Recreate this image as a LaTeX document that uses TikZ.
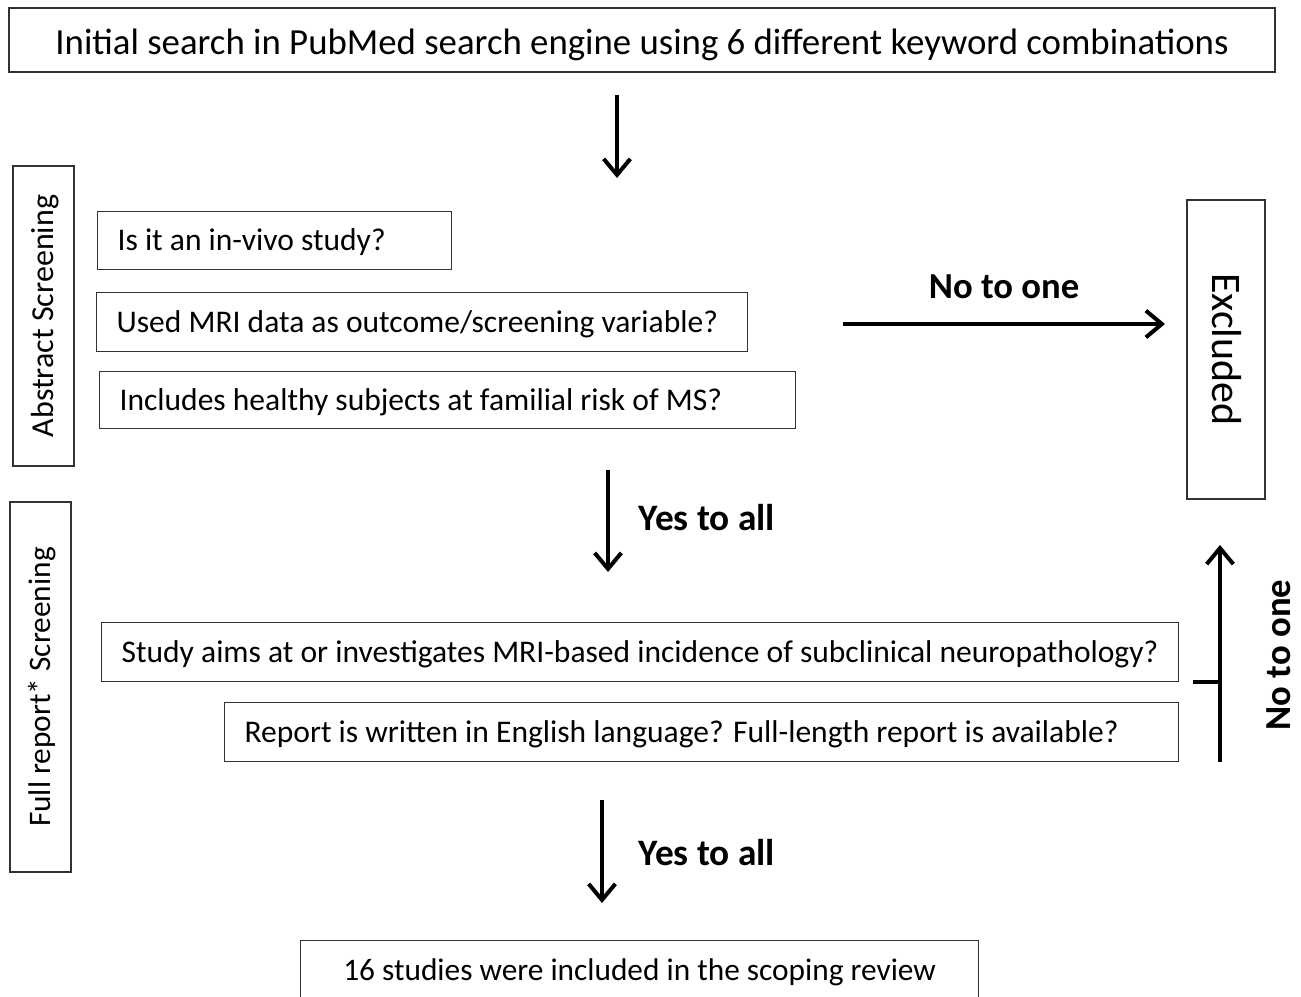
\documentclass[tikz,border=0pt]{standalone}
\usepackage{fontspec}
\setmainfont{Carlito}
\usetikzlibrary{arrows.meta}
\begin{document}
\begin{tikzpicture}[x=0.75pt,y=-0.75pt,
  box/.style={draw=black!80,line width=0.9pt,inner sep=0pt,text depth=0pt},
  qbox/.style={box,anchor=north west,align=flush left,execute at begin node={\hspace*{15pt}},font=\fontsize{23.65}{26}\selectfont,text height=14.95pt},
  side/.style={box,font=\fontsize{23.5}{26}\selectfont,text height=14.85pt},
  arr/.style={line width=3pt,-{Straight Barb[length=12pt,width=20pt,line width=3pt]}},
  lbl/.style={font=\bfseries\fontsize{27.5}{30}\selectfont}]
\useasboundingbox (0,0) rectangle (1301,996);
\node[box,minimum width=949.5pt,minimum height=48pt,font=\fontsize{27.6}{30}\selectfont,text height=21.5pt] (top) at (642,40) {Initial search in PubMed search engine using 6 different keyword combinations};
\node[side,rotate=90,minimum width=225pt,minimum height=45.75pt,font=\fontsize{24}{26}\selectfont,text height=15.2pt] (abs) at (43.5,316) {Abstract Screening};
\node[qbox,text width=265.5pt,minimum height=43.5pt] (q1) at (97,211) {Is it an in-vivo study?};
\node[qbox,text width=488.25pt,minimum height=44.25pt] (q2) at (96,292) {Used MRI data as outcome/screening variable?};
\node[qbox,text width=522pt,minimum height=42.75pt] (q3) at (99,371) {Includes healthy subjects at familial risk of MS?};
\node[side,rotate=-90,minimum width=224.25pt,minimum height=58.5pt,font=\fontsize{31.5}{34}\selectfont,text height=19.9pt] (exc) at (1226,349.5) {Excluded};
\node[side,rotate=90,minimum width=277.5pt,minimum height=45.75pt] (full) at (40.5,687) {Full report* Screening};
\node[qbox,text width=807.75pt,minimum height=44.25pt] (q4) at (101,622) {Study aims at or investigates MRI-based incidence of subclinical neuropathology?};
\node[qbox,text width=715.5pt,minimum height=44.25pt] (q5) at (224,702) {Report is written in English language? Full-length report is available?};
\node[side,anchor=north west,minimum width=508.5pt,minimum height=45pt] (fin) at (300,940) {16 studies were included in the scoping review};
% connectors
\coordinate (a1s) at (617,95); \coordinate (a1e) at (617,178);
\draw[arr] (a1s) -- (a1e);
\coordinate (hs) at (843,324); \coordinate (he) at (1165,324);
\draw[arr] (hs) -- (he);
\node[lbl] (no1) at (1004,287) {No to one};
\coordinate (a2s) at (608,470); \coordinate (a2e) at (608,572);
\draw[arr] (a2s) -- (a2e);
\node[lbl,anchor=west,font=\bfseries\fontsize{28}{30}\selectfont] (yes1) at (634,518) {Yes to all};
\coordinate (vs) at (1220,762); \coordinate (ve) at (1220,545);
\draw[arr] (vs) -- (ve);
\coordinate (ts) at (1193,682); \coordinate (te) at (1220,682);
\draw[line width=3pt] (ts) -- (te);
\node[lbl,rotate=90] (no2) at (1279,655) {No to one};
\coordinate (a3s) at (602,800); \coordinate (a3e) at (602,903);
\draw[arr] (a3s) -- (a3e);
\node[lbl,anchor=west,font=\bfseries\fontsize{28}{30}\selectfont] (yes2) at (634,853) {Yes to all};
\end{tikzpicture}
\end{document}
